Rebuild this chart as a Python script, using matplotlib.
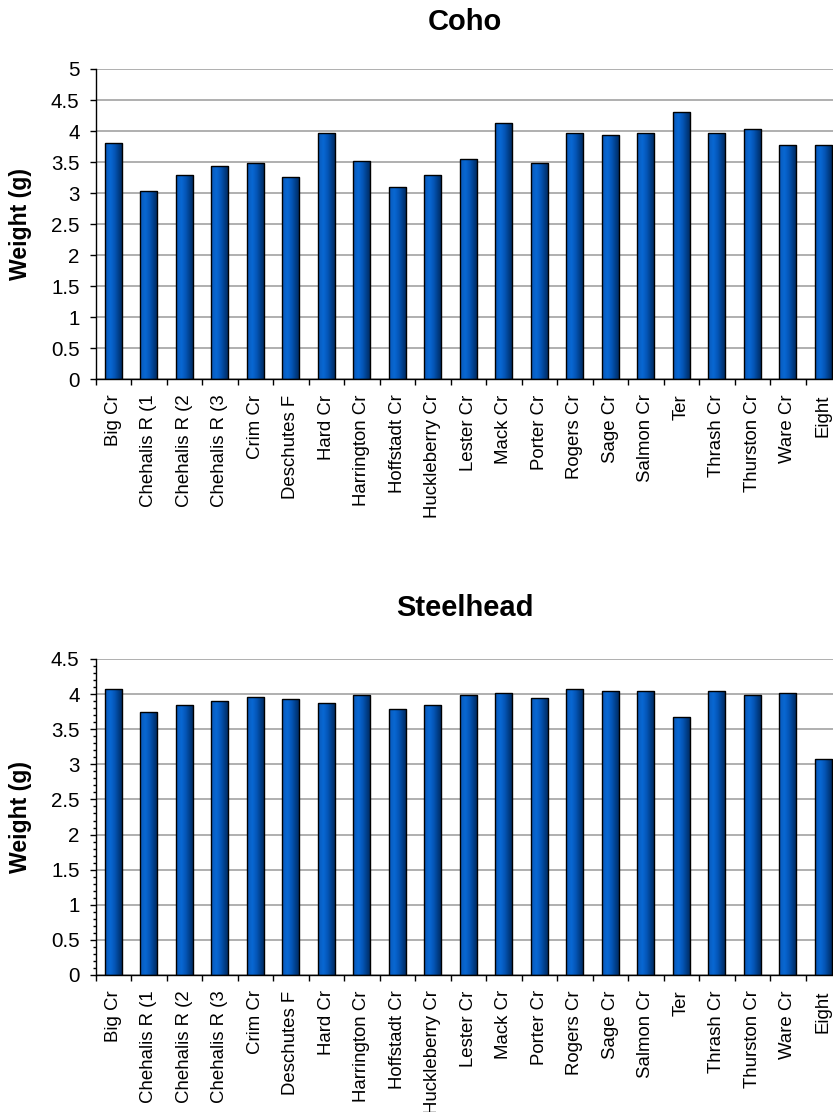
import numpy as np
import matplotlib
matplotlib.use("Agg")
import matplotlib.pyplot as plt
from matplotlib.colors import LinearSegmentedColormap
from matplotlib.ticker import FixedLocator, MultipleLocator, FuncFormatter

categories = ["Big Cr", "Chehalis R (1", "Chehalis R (2", "Chehalis R (3", "Crim Cr",
              "Deschutes F", "Hard Cr", "Harrington Cr", "Hoffstadt Cr", "Huckleberry Cr",
              "Lester Cr", "Mack Cr", "Porter Cr", "Rogers Cr", "Sage Cr", "Salmon Cr",
              "Ter", "Thrash Cr", "Thurston Cr", "Ware Cr", "Eight"]
coho = [3.81, 3.04, 3.30, 3.43, 3.49, 3.26, 3.97, 3.52, 3.10, 3.30, 3.55,
        4.13, 3.49, 3.97, 3.94, 3.97, 4.30, 3.97, 4.04, 3.78, 3.78]
steelhead = [4.07, 3.74, 3.85, 3.90, 3.96, 3.93, 3.88, 3.99, 3.79, 3.85, 3.99,
             4.02, 3.95, 4.07, 4.04, 4.04, 3.67, 4.04, 3.99, 4.02, 3.08]
titles = ["Coho", "Steelhead"]
ylabel = "Weight (g)"

FONT = "Liberation Sans"
W, H = 833, 1112
fig = plt.figure(figsize=(W / 100, H / 100), dpi=100)

cmap = LinearSegmentedColormap.from_list(
    "bar", [(0.0, "#0a58b8"), (0.3, "#0868d4"), (0.55, "#0455b6"),
            (0.8, "#003b82"), (1.0, "#00285a")])
grad = np.linspace(0, 1, 64).reshape(1, -1)


def px(v, total):
    return v / total


def make_panel(rect, values, ymax, minor, title, title_y):
    ax = fig.add_axes(rect)
    x = np.arange(len(categories))
    ax.set_xlim(-0.5, len(categories) - 0.5)
    ax.set_ylim(0, ymax)
    ax.set_axisbelow(True)
    ax.yaxis.set_major_locator(MultipleLocator(0.5))
    if minor:
        ax.yaxis.set_minor_locator(MultipleLocator(0.1))
    ax.yaxis.set_major_formatter(FuncFormatter(lambda v, p: ("%g" % round(v, 2))))
    ax.grid(axis="y", which="major", color="#9a9a9a", lw=1.1)
    bars = ax.bar(x, values, width=0.48, color="none", edgecolor="black",
                  linewidth=1.0, zorder=3)
    for b in bars:
        x0, y0 = b.get_x(), b.get_y()
        im = ax.imshow(grad, cmap=cmap, aspect="auto", interpolation="bilinear",
                       extent=(x0, x0 + b.get_width(), y0, y0 + b.get_height()),
                       zorder=2)
        im.set_clip_path(b)
    ax.set_xlim(-0.5, len(categories) - 0.5)
    ax.set_ylim(0, ymax)
    # category boundaries as major ticks, labels on minor ticks at centers
    ax.xaxis.set_major_locator(FixedLocator(np.arange(len(categories) + 1) - 0.5))
    ax.xaxis.set_major_formatter(FuncFormatter(lambda v, p: ""))
    ax.xaxis.set_minor_locator(FixedLocator(x))
    ax.set_xticklabels(categories, minor=True, rotation=90, fontsize=13.4,
                       family=FONT, va="top", ha="center")
    ax.tick_params(axis="x", which="major", direction="out", length=4.5, width=1,
                   color="black")
    ax.tick_params(axis="x", which="minor", length=0, pad=11)
    ax.tick_params(axis="y", which="major", direction="out", length=4.5, width=1,
                   labelsize=14.8, pad=7)
    ax.tick_params(axis="y", which="minor", direction="out", length=2.5, width=1)
    for lab in ax.get_yticklabels():
        lab.set_family(FONT)
    for s in ("top", "right"):
        ax.spines[s].set_visible(False)
    for s in ("left", "bottom"):
        ax.spines[s].set_color("black")
        ax.spines[s].set_linewidth(1.0)
    fig.text(px(465, W), 1 - px(title_y, H), title, ha="center", va="center",
             fontsize=21, fontweight="bold", family=FONT)
    yc = rect[1] + rect[3] / 2
    fig.text(px(21, W), yc, ylabel, rotation=90, ha="center", va="center",
             fontsize=16.6, fontweight="bold", family=FONT)
    return ax


left = px(95.5, W)
width = px(841 - 95.5, W)
make_panel([left, 1 - px(379.3, H), width, px(379.3 - 69, H)], coho, 5, False,
           titles[0], 22)
make_panel([left, 1 - px(975, H), width, px(975 - 659, H)], steelhead, 4.5, True,
           titles[1], 608)

fig.savefig("out.png", dpi=100)
